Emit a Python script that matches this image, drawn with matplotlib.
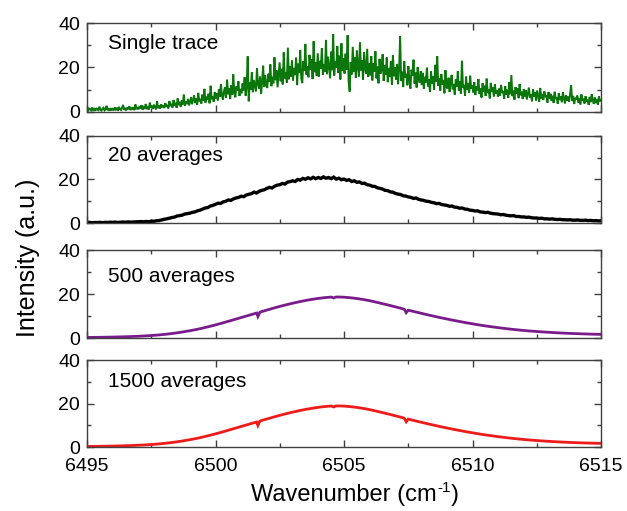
import numpy as np
import matplotlib
matplotlib.use("Agg")
import matplotlib.pyplot as plt
from matplotlib.ticker import MultipleLocator

plt.rcParams['font.family'] = ['Liberation Sans', 'DejaVu Sans']

# ---------------- data ----------------
X_MIN, X_MAX = 6495, 6515
panel_labels = ["Single trace", "20 averages", "500 averages", "1500 averages"]
x_ticks = [6495, 6500, 6505, 6510, 6515]
y_ticks = [0, 20, 40]

# single trace (25 samples per cm-1)
single_trace = [
    1.0, 0.6, 1.6, 1.2, 0.7, 2.0, 0.9, 1.4, 0.5, 1.8, 1.1, 0.8, 2.4, 1.0, 0.6, 1.5, 1.9, 0.7, 1.2, 2.8, 0.8, 1.3, 0.6, 1.7, 1.0,
    1.4, 0.7, 2.1, 1.1, 1.6, 0.6, 2.3, 1.3, 0.9, 1.9, 3.2, 1.0, 1.5, 0.7, 2.0, 1.2, 2.6, 0.9, 1.7, 1.1, 2.2, 0.8, 3.4, 1.3, 1.8,
    1.2, 2.6, 1.5, 3.1, 1.0, 2.2, 1.8, 3.6, 1.3, 2.4, 1.1, 4.2, 1.9, 2.8, 1.4, 3.3, 2.0, 1.2, 4.8, 1.7, 2.9, 1.5, 3.5, 2.1, 3.0,
    1.8, 4.0, 2.3, 3.2, 1.6, 4.9, 2.6, 3.7, 2.0, 5.4, 2.9, 4.2, 1.9, 6.1, 3.1, 4.6, 2.4, 5.2, 3.4, 7.8, 2.7, 4.8, 3.6, 5.9, 3.0,
    4.4, 6.7, 3.5, 5.6, 7.4, 4.0, 6.2, 3.3, 8.6, 4.8, 5.9, 3.8, 7.8, 5.1, 10.4, 4.2, 6.9, 5.5, 8.2, 3.9, 11.8, 5.7, 7.1, 4.6, 9.0,
    6.0, 8.4, 5.2, 10.1, 6.8, 12.6, 7.4, 5.6, 9.3, 11.2, 6.3, 14.5, 8.0, 10.7, 5.8, 12.0, 7.7, 16.9, 8.8, 6.6, 11.5, 9.6, 13.8, 7.2, 10.4,
    8.4, 12.8, 9.7, 15.6, 7.3, 11.4, 25.0, 4.8, 13.2, 10.1, 17.8, 8.9, 14.4, 11.9, 9.2, 19.6, 12.5, 10.6, 15.9, 8.1, 13.7, 20.8, 11.2, 16.4, 12.0,
    10.8, 17.2, 13.5, 21.4, 11.6, 15.8, 12.9, 24.6, 14.3, 18.7, 11.1, 16.5, 22.3, 13.8, 19.4, 12.4, 26.8, 15.1, 17.9, 13.2, 28.9, 14.7, 20.6, 16.0, 23.1,
    14.2, 19.8, 16.6, 24.4, 12.1, 21.7, 17.5, 27.8, 15.3, 13.0, 22.9, 18.4, 30.6, 16.8, 20.5, 15.6, 25.7, 19.1, 23.6, 14.8, 31.8, 17.9, 22.2, 16.2, 26.4,
    15.9, 23.0, 19.4, 28.6, 16.7, 21.5, 18.1, 32.4, 17.0, 24.8, 20.3, 15.2, 27.1, 18.8, 35.0, 16.4, 22.6, 19.9, 29.7, 17.6, 25.3, 14.6, 30.9, 18.5, 24.1,
    17.3, 26.2, 19.0, 34.6, 13.8, 9.2, 22.4, 16.9, 29.3, 18.2, 24.7, 15.4, 27.6, 20.1, 16.0, 31.2, 18.7, 23.3, 14.5, 26.8, 19.6, 17.1, 28.4, 15.8, 22.0,
    16.5, 25.1, 14.2, 21.8, 18.0, 27.3, 15.1, 20.4, 12.9, 23.9, 17.3, 19.2, 26.0, 14.0, 21.1, 16.6, 24.5, 13.4, 19.8, 15.7, 22.7, 12.3, 25.6, 16.1, 20.0,
    14.6, 21.6, 12.5, 19.3, 34.0, 13.9, 18.1, 11.2, 22.8, 15.4, 17.2, 12.0, 20.6, 14.3, 10.5, 19.0, 16.2, 23.5, 12.8, 17.7, 11.0, 20.2, 15.0, 13.1, 18.4,
    12.1, 17.6, 10.4, 15.8, 13.3, 19.9, 11.5, 14.7, 9.2, 18.2, 12.7, 16.0, 10.1, 21.2, 13.6, 25.0, 11.8, 15.2, 9.6, 17.1, 12.3, 14.4, 8.4, 18.8, 11.1,
    10.6, 15.4, 9.0, 13.2, 16.7, 10.2, 12.6, 7.8, 14.6, 11.3, 18.4, 9.5, 13.8, 8.3, 23.0, 10.8, 12.1, 7.4, 15.9, 9.9, 13.0, 8.7, 16.3, 10.4, 11.9,
    8.8, 13.5, 7.6, 11.4, 9.7, 14.8, 8.1, 10.6, 6.5, 12.9, 9.2, 11.8, 7.2, 15.0, 8.5, 10.2, 6.1, 13.1, 9.0, 11.0, 7.0, 12.4, 8.2, 9.8, 6.8,
    10.5, 7.3, 12.2, 8.6, 9.4, 5.9, 11.6, 7.8, 10.0, 6.4, 13.4, 8.0, 16.6, 7.1, 9.6, 5.5, 11.2, 8.3, 10.7, 6.2, 12.6, 7.5, 9.1, 5.8, 10.3,
    7.0, 9.9, 5.6, 8.4, 11.0, 6.5, 7.9, 4.8, 10.2, 6.9, 8.8, 5.2, 9.6, 7.4, 4.5, 10.8, 6.1, 8.1, 5.4, 9.3, 6.7, 7.6, 4.2, 9.0, 6.0,
    8.2, 5.0, 7.3, 4.1, 9.1, 5.8, 6.6, 3.7, 8.5, 5.4, 7.0, 4.4, 8.8, 6.2, 3.9, 7.6, 5.1, 6.9, 4.6, 8.0, 12.0, 4.9, 7.2, 3.6, 6.4,
    5.6, 7.4, 4.2, 6.3, 3.4, 7.9, 5.0, 6.0, 3.8, 7.1, 4.7, 5.5, 3.2, 6.8, 4.4, 8.0, 5.3, 3.6, 6.5, 4.0, 5.8, 3.3, 7.0, 4.8, 5.4,
]

# 20 averages (201 samples, 0.1 cm-1 spacing)
avg20 = [
    0.2, 0.3, 0.1, 0.25, 0.2, 0.3, 0.15, 0.3, 0.25, 0.35,
    0.3, 0.4, 0.25, 0.35, 0.45, 0.35, 0.5, 0.4, 0.45, 0.55,
    0.5, 0.65, 0.55, 0.7, 0.6, 0.85, 0.8, 1.0, 1.1, 1.4,
    1.7, 1.9, 2.2, 2.5, 2.7, 3.2, 3.4, 3.6, 4.1, 4.3,
    4.5, 4.9, 5.1, 5.6, 5.9, 6.4, 6.9, 7.1, 7.8, 8.1,
    8.6, 9.1, 9.0, 9.7, 10.0, 10.6, 10.4, 11.1, 11.5, 11.8,
    12.3, 12.1, 12.9, 13.2, 13.5, 14.2, 13.8, 14.6, 15.0, 15.3,
    15.9, 16.4, 16.1, 16.9, 17.4, 17.6, 18.2, 17.9, 18.8, 19.0,
    19.4, 19.1, 20.0, 19.7, 20.5, 20.1, 20.8, 20.3, 21.0, 20.4,
    20.9, 20.5, 21.2, 20.6, 20.9, 20.4, 21.1, 20.2, 20.6, 19.9,
    20.2, 19.6, 19.9, 19.1, 19.4, 18.7, 18.9, 18.2, 18.3, 17.6,
    17.4, 16.9, 16.8, 16.2, 15.9, 15.6, 15.0, 14.9, 14.3, 14.2,
    13.6, 13.3, 13.1, 12.5, 12.4, 12.0, 11.8, 11.3, 11.5, 10.9,
    10.6, 10.4, 10.0, 9.9, 9.5, 9.3, 8.9, 9.0, 8.5, 8.3,
    8.1, 7.7, 7.8, 7.3, 7.2, 6.8, 6.9, 6.4, 6.3, 5.9,
    5.8, 5.5, 5.6, 5.1, 5.0, 4.8, 4.9, 4.5, 4.3, 4.2,
    4.1, 3.8, 3.9, 3.6, 3.4, 3.3, 3.4, 3.0, 3.0, 2.8,
    2.8, 2.6, 2.7, 2.4, 2.3, 2.3, 2.1, 2.2, 1.9, 1.9,
    1.8, 1.9, 1.7, 1.6, 1.7, 1.5, 1.5, 1.4, 1.5, 1.3,
    1.3, 1.4, 1.2, 1.2, 1.3, 1.1, 1.2, 1.0, 1.1, 1.0,
    1.0,
]

# 500 and 1500 averages (smooth traces with narrow absorption dips)
smooth_x = [
    6495.00, 6495.25, 6495.50, 6495.75, 6496.00, 6496.25, 6496.50, 6496.75,
    6497.00, 6497.25, 6497.50, 6497.75, 6498.00, 6498.25, 6498.50, 6498.75,
    6499.00, 6499.25, 6499.50, 6499.75, 6500.00, 6500.25, 6500.50, 6500.75,
    6501.00, 6501.25, 6501.50, 6501.60, 6501.65, 6501.72, 6501.75,
    6502.00, 6502.25, 6502.50, 6502.75, 6503.00, 6503.25, 6503.50, 6503.75,
    6504.00, 6504.25, 6504.50, 6504.60, 6504.68, 6504.75,
    6505.00, 6505.25, 6505.50, 6505.75, 6506.00, 6506.25, 6506.50, 6506.75,
    6507.00, 6507.25, 6507.35, 6507.42, 6507.50, 6507.75,
    6508.00, 6508.25, 6508.50, 6508.75, 6509.00, 6509.25, 6509.50, 6509.75,
    6510.00, 6510.25, 6510.50, 6510.75, 6511.00, 6511.25, 6511.50, 6511.75,
    6512.00, 6512.25, 6512.50, 6512.75, 6513.00, 6513.25, 6513.50, 6513.75,
    6514.00, 6514.25, 6514.50, 6514.75, 6515.00,
]
avg500 = [
    0.25, 0.28, 0.32, 0.37, 0.43, 0.50, 0.58, 0.68,
    0.80, 0.95, 1.12, 1.35, 1.62, 1.95, 2.35, 2.80,
    3.30, 3.85, 4.50, 5.20, 5.95, 6.75, 7.60, 8.45,
    9.30, 10.15, 11.00, 11.35, 9.80, 11.60, 11.85,
    12.70, 13.55, 14.35, 15.10, 15.80, 16.45, 17.05, 17.55,
    18.00, 18.35, 18.60, 18.20, 18.60, 18.65,
    18.55, 18.30, 17.95, 17.50, 16.95, 16.30, 15.60, 14.90,
    14.15, 13.40, 13.00, 11.50, 12.65, 11.95,
    11.25, 10.55, 9.90, 9.25, 8.65, 8.05, 7.50, 6.95,
    6.45, 5.95, 5.50, 5.10, 4.70, 4.35, 4.00, 3.70,
    3.42, 3.17, 2.95, 2.75, 2.57, 2.40, 2.25, 2.12,
    2.00, 1.90, 1.80, 1.72, 1.65,
]
avg1500 = [
    0.25, 0.28, 0.32, 0.37, 0.43, 0.50, 0.59, 0.69,
    0.81, 0.96, 1.14, 1.37, 1.65, 1.98, 2.38, 2.84,
    3.35, 3.91, 4.57, 5.28, 6.04, 6.85, 7.71, 8.58,
    9.44, 10.30, 11.16, 11.50, 9.90, 11.80, 12.02,
    12.88, 13.74, 14.55, 15.31, 16.02, 16.68, 17.28, 17.79,
    18.24, 18.60, 18.85, 18.40, 18.85, 18.90,
    18.80, 18.55, 18.20, 17.74, 17.18, 16.52, 15.81, 15.10,
    14.34, 13.58, 13.18, 11.60, 12.82, 12.11,
    11.40, 10.69, 10.03, 9.37, 8.76, 8.15, 7.59, 7.03,
    6.52, 6.02, 5.56, 5.15, 4.75, 4.39, 4.04, 3.73,
    3.45, 3.19, 2.97, 2.77, 2.58, 2.41, 2.26, 2.13,
    2.01, 1.91, 1.81, 1.73, 1.66,
]

colors = ["#0b760b", "#000000", "#7a1b8c", "#ee1b1b"]
linewidths = [1.4, 2.4, 2.0, 2.0]
label_pos = [0.775, 0.78, 0.70, 0.75]

# ---------------- figure ----------------
W, H = 627, 511
fig = plt.figure(figsize=(W / 100, H / 100), dpi=100)
left_px, right_px = 87, 601
panels_px = [(23, 112), (136, 223), (250, 338), (360, 447)]

x_single = np.linspace(X_MIN, X_MAX, len(single_trace))
x_avg20 = np.linspace(X_MIN, X_MAX, len(avg20))
series = [(x_single, single_trace), (x_avg20, avg20),
          (smooth_x, avg500), (smooth_x, avg1500)]

spine_col = "#404040"
axes = []
for i, (top, bot) in enumerate(panels_px):
    ax = fig.add_axes([left_px / W, (H - bot) / H,
                       (right_px - left_px) / W, (bot - top) / H])
    xs, ys = series[i]
    ax.plot(xs, ys, color=colors[i], lw=linewidths[i], solid_joinstyle='miter')
    ax.set_xlim(X_MIN, X_MAX)
    ax.set_ylim(0, 40)
    ax.set_xticks(x_ticks)
    ax.set_yticks(y_ticks)
    ax.xaxis.set_minor_locator(MultipleLocator(2.5))
    ax.yaxis.set_minor_locator(MultipleLocator(10))
    ax.tick_params(which='both', direction='in', top=True, right=True,
                   color=spine_col, width=1.0)
    ax.tick_params(which='major', length=5, labelsize=14)
    ax.tick_params(axis='y', which='major', pad=5)
    ax.tick_params(axis='x', which='major', pad=8)
    ax.tick_params(which='minor', length=3)
    for s in ax.spines.values():
        s.set_color(spine_col)
        s.set_linewidth(1.0)
    if i < 3:
        ax.tick_params(labelbottom=False)
    ax.text(0.04, label_pos[i], panel_labels[i], transform=ax.transAxes,
            fontsize=15, va='center', ha='left')
    axes.append(ax)

fig.text(28 / W, 1 - 258 / H, "Intensity (a.u.)", rotation=90,
         fontsize=18, ha='center', va='center')

# x-axis label with a small hyphen superscript, as in the reference
renderer = fig.canvas.get_renderer()
base_y = 1 - 501 / H
t1 = fig.text(0, base_y, "Wavenumber (cm", fontsize=17, ha='left', va='baseline')
t2 = fig.text(0, base_y + 9 / H, "-1", fontsize=11, ha='left', va='baseline')
t3 = fig.text(0, base_y, ")", fontsize=17, ha='left', va='baseline')
w1 = t1.get_window_extent(renderer).width
w2 = t2.get_window_extent(renderer).width
w3 = t3.get_window_extent(renderer).width
total = w1 + w2 + w3
x0 = 355 - total / 2
t1.set_x(x0 / W)
t2.set_x((x0 + w1) / W)
t3.set_x((x0 + w1 + w2) / W)

fig.savefig("out.png", dpi=100, facecolor="white")
